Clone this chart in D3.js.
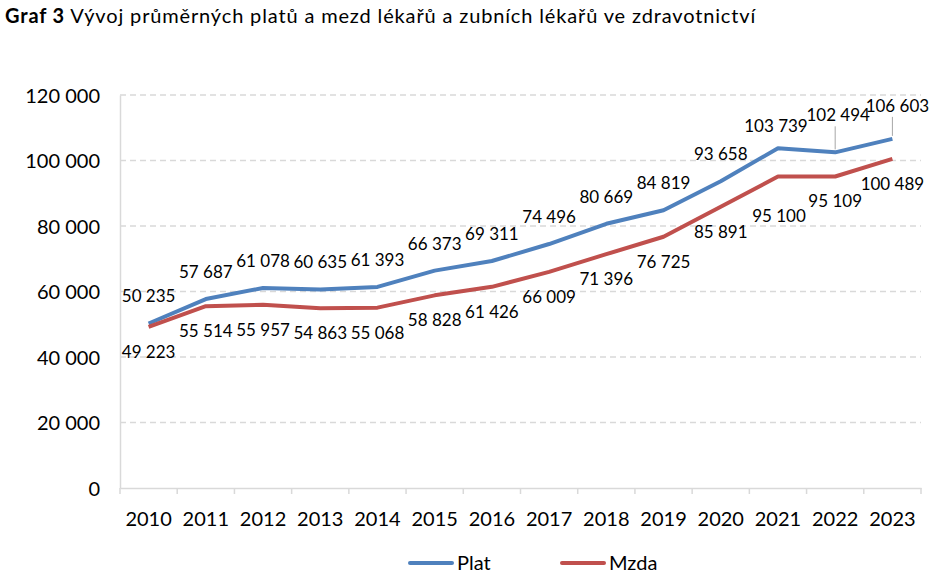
<!DOCTYPE html>
<html>
<head>
<meta charset="utf-8">
<script src="https://cdn.jsdelivr.net/npm/d3@7"></script>
<style>
  html, body { margin: 0; padding: 0; background: #fff; }
  text { font-family: Lato, "Open Sans", sans-serif; fill: #000; }
</style>
</head>
<body>
<svg id="chart" width="933" height="579"></svg>
<script>
const years = ["2010","2011","2012","2013","2014","2015","2016","2017","2018","2019","2020","2021","2022","2023"];
const plat = [50235, 57687, 61078, 60635, 61393, 66373, 69311, 74496, 80669, 84819, 93658, 103739, 102494, 106603];
const mzda = [49223, 55514, 55957, 54863, 55068, 58828, 61426, 66009, 71396, 76725, 85891, 95100, 95109, 100489];
const yTicks = [0, 20000, 40000, 60000, 80000, 100000, 120000];
const seriesNames = ["Plat", "Mzda"];
const colors = ["#4F81BD", "#C0504D"];

const svg = d3.select("#chart");

const x = d3.scaleBand().domain(years).range([120, 921]).paddingInner(0).paddingOuter(0);
const y = d3.scaleLinear().domain([0, 120000]).range([488, 95]);
const fmt = v => d3.format(",")(v).replace(/,/g, " ");

// title
const title = svg.append("text").attr("x", 5).attr("y", 23)
  .style("font-size", "20px").style("letter-spacing", "0.85px");
title.append("tspan").style("font-weight", "bold").text("Graf 3");
title.append("tspan").text(" Vývoj průměrných platů a mezd lékařů a zubních lékařů ve zdravotnictví");

// gridlines
svg.append("g").selectAll("line").data(yTicks.filter(d => d > 0)).join("line")
  .attr("x1", 120).attr("x2", 921)
  .attr("y1", d => y(d)).attr("y2", d => y(d))
  .attr("stroke", "#d9d9d9").attr("stroke-width", 1.3).attr("stroke-dasharray", "6,4");

// y axis
const yAxis = svg.append("g").attr("transform", "translate(120,0)")
  .call(d3.axisLeft(y).tickValues(yTicks).tickSize(0).tickPadding(20).tickFormat(fmt));
yAxis.select(".domain").attr("stroke", "#d9d9d9").attr("stroke-width", 1.5);
yAxis.selectAll("text").style("font-size", "20px").style("font-family", "Lato, sans-serif").attr("dy", "0.35em");

// x axis
const xAxis = svg.append("g").attr("transform", "translate(0,488)")
  .call(d3.axisBottom(x).tickSize(0).tickPadding(24));
xAxis.select(".domain").attr("stroke", "#d9d9d9").attr("stroke-width", 1.5);
xAxis.selectAll("text").style("font-size", "20px").style("font-family", "Lato, sans-serif");
// tick marks at category boundaries
const bounds = years.map(d => x(d)).concat([x(years[years.length - 1]) + x.bandwidth()]);
xAxis.append("g").selectAll("line").data(bounds).join("line")
  .attr("x1", d => d).attr("x2", d => d).attr("y1", 0).attr("y2", 6)
  .attr("stroke", "#d9d9d9").attr("stroke-width", 1.5);

const cx = d => x(d) + x.bandwidth() / 2;
const line = d3.line().x((d, i) => cx(years[i])).y(d => y(d));

[plat, mzda].forEach((s, k) => {
  svg.append("path").datum(s).attr("d", line)
    .attr("fill", "none").attr("stroke", colors[k]).attr("stroke-width", 4)
    .attr("stroke-linejoin", "round");
});

// label placement tweaks (layout only)
const platAdj = {"2021": {dx: -2, dy: 5}, "2022": {dx: 3, dy: -10}, "2023": {dx: 5, dy: -6}};
const mzdaAdj = {"2021": {dx: 1, dy: 15}};
const leader = {"2022": true, "2023": true};

// Plat labels
years.forEach((yr, i) => {
  const a = platAdj[yr] || {dx: 0, dy: 0};
  const px = cx(yr), py = y(plat[i]);
  const lx = px + a.dx, ly = py - 27 + a.dy;
  if (leader[yr]) {
    svg.append("line").attr("x1", px).attr("x2", px).attr("y1", py - 3).attr("y2", ly + 11)
      .attr("stroke", "#a6a6a6").attr("stroke-width", 1);
  }
  svg.append("text").attr("x", lx).attr("y", ly).attr("dy", "0.35em")
    .attr("text-anchor", "middle").style("font-size", "17px").text(fmt(plat[i]));
});
// Mzda labels
years.forEach((yr, i) => {
  const a = mzdaAdj[yr] || {dx: 0, dy: 0};
  const px = cx(yr), py = y(mzda[i]);
  svg.append("text").attr("x", px + a.dx).attr("y", py + 25 + a.dy).attr("dy", "0.35em")
    .attr("text-anchor", "middle").style("font-size", "17px").text(fmt(mzda[i]));
});

// legend
const legX = [410, 562];
seriesNames.forEach((n, k) => {
  const g = svg.append("g").attr("transform", `translate(${legX[k]},563)`);
  g.append("line").attr("x1", 0).attr("x2", 42).attr("y1", 0).attr("y2", 0)
    .attr("stroke", colors[k]).attr("stroke-width", 4).attr("stroke-linecap", "round");
  g.append("text").attr("x", 47).attr("y", 0).attr("dy", "0.35em").style("font-size", "20px").text(n);
});
</script>
</body>
</html>
